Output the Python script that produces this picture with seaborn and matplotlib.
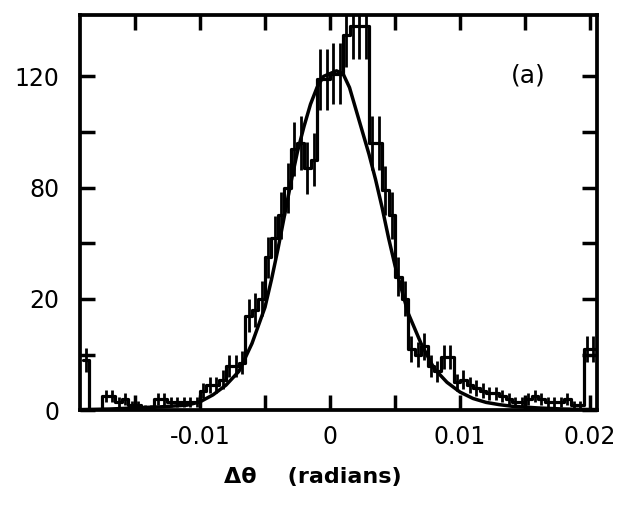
import numpy as np
import pandas as pd
import matplotlib
matplotlib.use("Agg")
import matplotlib.pyplot as plt
import seaborn as sns
from matplotlib.ticker import FixedLocator

# === histogram counts, bins of 0.0005 rad starting at -0.019 ===
bin_start = -0.019
bin_width = 0.0005
counts = [18, 0, 0, 5, 5, 3, 4, 2, 2, 1,
          1, 4, 4, 3, 3, 3, 3, 3, 7, 9,
          9, 11, 16, 16, 17, 34, 36, 40, 55, 62,
          70, 80, 94, 96, 87, 90, 119, 119, 121, 121,
          135, 138, 138, 138, 96, 96, 79, 70, 48, 40,
          22, 20, 23, 16, 14, 19, 19, 10, 11, 9,
          8, 7, 6, 6, 5, 4, 3, 3, 4, 5,
          4, 3, 3, 3, 4, 2, 2, 22, 22]

# === fitted curve ===
fit_x = [-0.0192, -0.017, -0.015, -0.013, -0.011, -0.010, -0.009, -0.008,
         -0.007, -0.006, -0.005, -0.0045, -0.004, -0.0035, -0.003, -0.0025,
         -0.002, -0.0015, -0.001, -0.0005, 0.0, 0.0005, 0.001, 0.0015,
         0.002, 0.0025, 0.003, 0.0035, 0.004, 0.0045, 0.005, 0.006,
         0.007, 0.008, 0.009, 0.010, 0.011, 0.012, 0.013, 0.014,
         0.016, 0.018, 0.0205]
fit_y = [0.2, 0.4, 0.8, 1.2, 1.8, 3.0, 5.5, 9.0,
         14, 24, 37, 47, 58, 70, 82, 93,
         102, 110, 116, 120, 121, 122, 121, 116,
         108, 100, 92, 83, 73, 62, 52, 35,
         24, 15, 10, 6.5, 4.2, 2.8, 2.0, 1.4,
         0.8, 0.4, 0.2]

xtick_pos = [-0.01, 0.0, 0.01, 0.02]
xtick_lab = ["-0.01", "0", "0.01", "0.02"]
xminor_pos = [-0.015, -0.005, 0.005, 0.015]
ytick_pos = [0, 40, 80, 120]
ytick_lab = ["0", "20", "80", "120"]
yminor_pos = [20, 60, 100]

edges = bin_start + bin_width * np.arange(len(counts) + 1)
df = pd.DataFrame({"center": edges[:-1] + bin_width / 2,
                   "count": np.array(counts, dtype=float)})

sns.set_style("ticks")
plt.rcParams["font.family"] = ["DejaVu Sans"]
plt.rcParams["text.color"] = "black"
plt.rcParams["xtick.color"] = "black"
plt.rcParams["ytick.color"] = "black"
plt.rcParams["axes.labelcolor"] = "black"

fig = plt.figure(figsize=(6.2, 5.07), dpi=100)
ax = fig.add_axes([0.129, 0.191, 0.834, 0.779])

sns.histplot(data=df, x="center", weights="count", bins=list(edges),
             element="step", fill=False, color="black", linewidth=2.3, ax=ax)

nz = df[df["count"] > 0]
ax.errorbar(nz["center"], nz["count"], yerr=np.sqrt(nz["count"]), fmt="none",
            ecolor="black", elinewidth=2.0, capsize=0)

sns.lineplot(x=fit_x, y=fit_y, color="black", linewidth=2.5, ax=ax)

ax.set_xlim(-0.01923, 0.02054)
ax.set_ylim(0, 142)

ax.set_xticks(xtick_pos)
ax.set_xticklabels(xtick_lab)
ax.xaxis.set_minor_locator(FixedLocator(xminor_pos))
ax.set_yticks(ytick_pos)
ax.set_yticklabels(ytick_lab)
ax.yaxis.set_minor_locator(FixedLocator(yminor_pos))

ax.tick_params(which="both", direction="in", top=True, right=True,
               length=11, width=2.5, color="black")
ax.tick_params(axis="x", labelsize=17, pad=11)
ax.tick_params(axis="y", labelsize=17, pad=15)

for s in ax.spines.values():
    s.set_linewidth(2.7)
    s.set_color("black")

ax.set_ylabel("")
ax.set_xlabel("Δθ    (radians)", fontsize=16, fontweight="bold")
ax.xaxis.set_label_coords(0.45, -0.145)

ax.text(0.867, 0.848, "(a)", transform=ax.transAxes, fontsize=18,
        ha="center", va="center")

fig.savefig("out.png", dpi=100)
